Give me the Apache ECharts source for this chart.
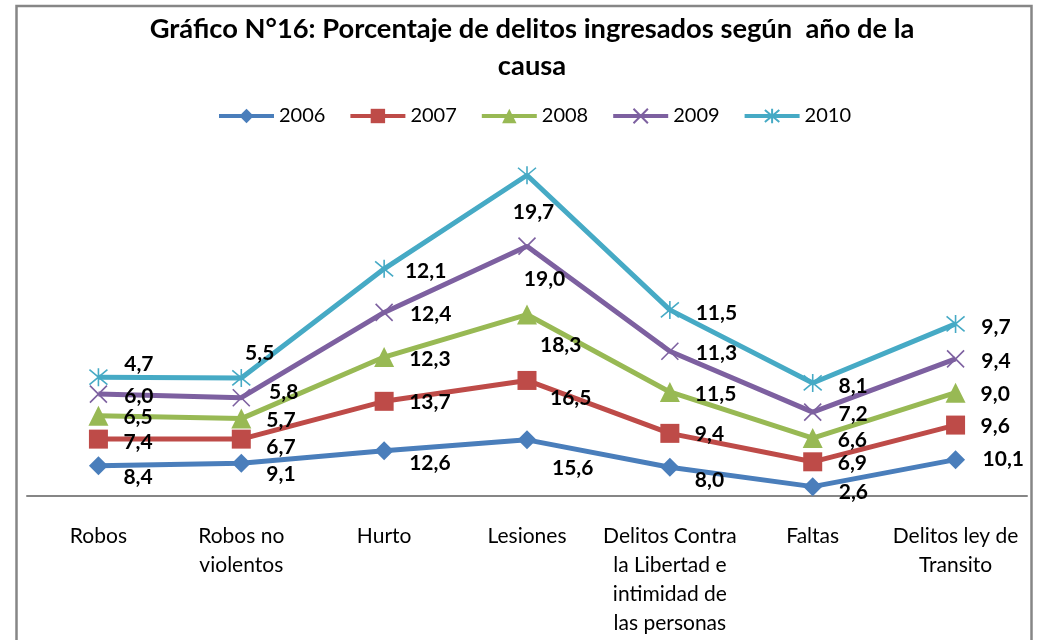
<!DOCTYPE html>
<html>
<head>
<meta charset="utf-8">
<script src="https://cdn.jsdelivr.net/npm/echarts@6/dist/echarts.min.js"></script>
<style>html,body{margin:0;padding:0;background:#fff;}#c{width:1041px;height:640px;}</style>
</head>
<body>
<div id="c"></div>
<script>
const categories = ['Robos', 'Robos no\nviolentos', 'Hurto', 'Lesiones', 'Delitos Contra\nla Libertad e\nintimidad de\nlas personas', 'Faltas', 'Delitos ley de\nTransito'];
const seriesNames = ['2006', '2007', '2008', '2009', '2010'];
const v2006 = [8.4, 9.1, 12.6, 15.6, 8.0, 2.6, 10.1];
const v2007 = [7.4, 6.7, 13.7, 16.5, 9.4, 6.9, 9.6];
const v2008 = [6.5, 5.7, 12.3, 18.3, 11.5, 6.6, 9.0];
const v2009 = [6.0, 5.8, 12.4, 19.0, 11.3, 7.2, 9.4];
const v2010 = [4.7, 5.5, 12.1, 19.7, 11.5, 8.1, 9.7];
const values = [v2006, v2007, v2008, v2009, v2010];

const FONT = 'Lato, "Open Sans", sans-serif';
// style config per series (symbols, colours, label placement tweaks)
const styles = [
  { color: '#4A7EBB', symbol: 'diamond', size: 19, border: 0, off: [15.5, 11], tweak: { 2: [15.5, 13], 3: [15.5, 28], 4: [15.5, 13], 5: [16.5, 6], 6: [17.5, 0] } },
  { color: '#BE4B48', symbol: 'rect', size: 19, border: 0, off: [15.5, 1], tweak: { 0: [15.5, 3], 1: [15.5, 8], 3: [13.5, 18] } },
  { color: '#98B954', symbol: 'triangle', size: 20, border: 0, off: [15, 2], tweak: { 3: [3, 31] } },
  { color: '#7D60A0', symbol: 'path://M0,0L10,10M10,0L0,10', size: 17, border: 1.6, off: [16.5, 2], tweak: { 1: [18.5, -5], 3: [-12.5, 33] } },
  { color: '#46AAC5', symbol: 'path://M0,0L10,10M10,0L0,10M5,-1L5,11', size: 18, border: 1.6, off: [16, 3], tweak: { 0: [16, -13], 1: [-6, -25], 2: [11, 2], 3: [-24, 37] } }
];

const fmt = v => v.toFixed(1).replace('.', ',');

const series = seriesNames.map((name, si) => {
  const st = styles[si];
  return {
    name: name,
    type: 'line',
    stack: 'total',
    symbol: st.symbol,
    symbolSize: st.size,
    lineStyle: { width: 5, color: st.color },
    itemStyle: { color: st.color, borderColor: st.color, borderWidth: st.border },
    label: {
      show: true,
      position: 'right',
      distance: 0,
      offset: st.off,
      color: '#000',
      fontFamily: FONT,
      fontWeight: 'bold',
      fontSize: 21,
      formatter: p => fmt(values[si][p.dataIndex])
    },
    emphasis: { disabled: true },
    animation: false,
    data: values[si].map((v, ci) => {
      if (st.tweak[ci]) {
        return { value: v, label: { offset: st.tweak[ci] } };
      }
      return v;
    })
  };
});

const chart = echarts.init(document.getElementById('c'), null, { renderer: 'canvas' });
chart.setOption({
  backgroundColor: '#fff',
  animation: false,
  title: {
    text: 'Gráfico N°16: Porcentaje de delitos ingresados según  año de la\ncausa',
    left: 527,
    top: 6,
    textAlign: 'center',
    textStyle: { fontFamily: FONT, fontWeight: 'bold', fontSize: 27.3, lineHeight: 37, color: '#000' }
  },
  legend: {
    data: seriesNames,
    left: 212,
    top: 101,
    itemWidth: 55,
    itemHeight: 18,
    itemGap: 23,
    lineStyle: { width: 4 },
    textStyle: { fontFamily: FONT, fontSize: 20, color: '#000' }
  },
  grid: { left: 27, right: 14, top: 136, bottom: 144, containLabel: false },
  xAxis: {
    type: 'category',
    data: categories,
    boundaryGap: true,
    axisLine: { lineStyle: { color: '#868686', width: 2 } },
    axisTick: { show: false },
    axisLabel: { interval: 0, fontFamily: FONT, fontSize: 21, lineHeight: 29, margin: 26, color: '#000' },
    splitLine: { show: false }
  },
  yAxis: { type: 'value', min: 0, max: 100, show: false },
  graphic: [{
    type: 'rect',
    shape: { x: 16.5, y: 6, width: 1015, height: 700 },
    style: { fill: 'none', stroke: '#868686', lineWidth: 2.5 },
    silent: true,
    z: 100
  }],
  series: series
});
</script>
</body>
</html>
